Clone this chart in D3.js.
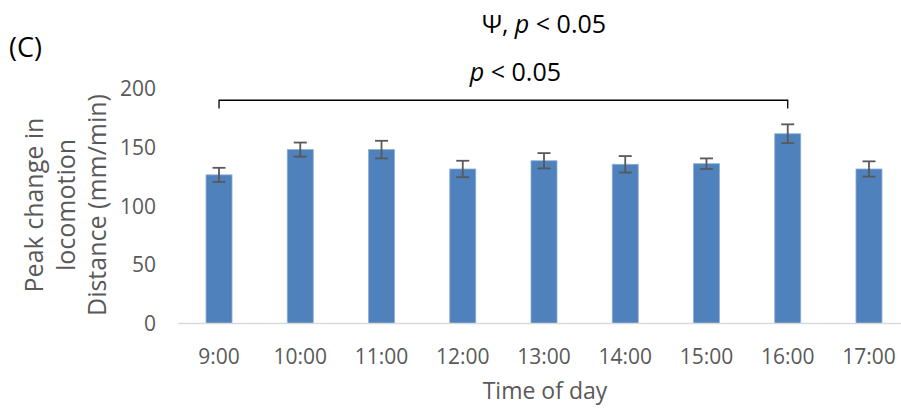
<!DOCTYPE html>
<html>
<head>
<meta charset="utf-8">
<script src="https://cdn.jsdelivr.net/npm/d3@7"></script>
<style>
  html, body { margin: 0; padding: 0; background: #fff; }
  svg { display: block; font-family: "Open Sans", "Noto Sans", sans-serif; }
</style>
</head>
<body>
<svg id="chart" width="901" height="409"></svg>
<script>
// Time points and the mean peak change with its error (mm/min)
const times = ["9:00", "10:00", "11:00", "12:00", "13:00", "14:00", "15:00", "16:00", "17:00"];
const peakChange = [126.5, 148, 148, 131.5, 138.5, 135.5, 136, 161.5, 131.5];
const errors = [6, 6, 7.5, 7, 6.5, 7, 4.5, 8, 6.5];
const yTicks = [0, 50, 100, 150, 200];

// Significance bracket between the 9:00 and 16:00 groups
const bracketFrom = "9:00";
const bracketTo = "16:00";
const bracketLevel = 190;
const bracketDrop = 183;

const svg = d3.select("#chart");
const x = d3.scaleBand().domain(times).range([178.4, 909.6]).paddingInner(0.68).paddingOuter(0.34);
const y = d3.scaleLinear().domain([0, 200]).range([323.5, 88.5]);
const cx = d => x(d) + x.bandwidth() / 2;

const gray = "#595959";

// Bars
svg.append("g").selectAll("rect").data(times).join("rect")
  .attr("x", d => x(d))
  .attr("width", x.bandwidth())
  .attr("y", (d, i) => y(peakChange[i]))
  .attr("height", (d, i) => y(0) - y(peakChange[i]))
  .attr("fill", "#4F81BD")
  .attr("stroke", "#8fb0d8")
  .attr("stroke-width", 0.8);

// Error bars
const eb = svg.append("g").attr("stroke", gray).attr("stroke-width", 1.8);
times.forEach((t, i) => {
  const c = cx(t), hi = y(peakChange[i] + errors[i]), lo = y(peakChange[i] - errors[i]);
  eb.append("line").attr("x1", c).attr("x2", c).attr("y1", hi).attr("y2", lo);
  eb.append("line").attr("x1", c - 6.5).attr("x2", c + 6.5).attr("y1", hi).attr("y2", hi);
  eb.append("line").attr("x1", c - 6.5).attr("x2", c + 6.5).attr("y1", lo).attr("y2", lo);
});

// Category axis line
svg.append("line")
  .attr("x1", 178.4).attr("x2", 901)
  .attr("y1", y(0)).attr("y2", y(0))
  .attr("stroke", "#d9d9d9").attr("stroke-width", 1.5);

// Y tick labels
svg.append("g").selectAll("text").data(yTicks).join("text")
  .attr("x", 156).attr("y", d => y(d))
  .attr("dy", "0.36em")
  .attr("text-anchor", "end")
  .attr("font-size", 21)
  .attr("fill", gray)
  .text(d => d);

// X tick labels
svg.append("g").selectAll("text").data(times).join("text")
  .attr("x", d => cx(d)).attr("y", 356)
  .attr("dy", "0.36em")
  .attr("text-anchor", "middle")
  .attr("font-size", 21)
  .attr("fill", gray)
  .text(d => d);

// Axis titles
const plotMid = (cx(times[0]) + cx(times[times.length - 1])) / 2;
svg.append("text")
  .attr("x", plotMid + 1)
  .attr("y", 391).attr("dy", "0.36em")
  .attr("text-anchor", "middle")
  .attr("font-size", 23)
  .attr("fill", gray)
  .text("Time of day");

const yTitle = svg.append("text")
  .attr("transform", "translate(0,205) rotate(-90)")
  .attr("text-anchor", "middle")
  .attr("font-size", 25)
  .attr("fill", gray);
["Peak change in", "locomotion", "Distance (mm/min)"].forEach((line, i) => {
  yTitle.append("tspan").attr("x", 0).attr("y", 43 + i * 31.5).text(line);
});

// Panel letter
svg.append("text").attr("x", 9).attr("y", 57)
  .attr("font-size", 27).attr("fill", "#000").text("(C)");

// Bracket
const bx1 = cx(bracketFrom), bx2 = cx(bracketTo);
svg.append("path")
  .attr("d", `M${bx1},${y(bracketDrop)}V${y(bracketLevel)}H${bx2}V${y(bracketDrop)}`)
  .attr("fill", "none").attr("stroke", "#000").attr("stroke-width", 1.3);

const pText = svg.append("text")
  .attr("x", (bx1 + bx2) / 2 + 12).attr("y", 81)
  .attr("text-anchor", "middle")
  .attr("font-size", 25).attr("fill", "#000");
pText.append("tspan").attr("font-style", "italic").text("p");
pText.append("tspan").text(" < 0.05");

const psiText = svg.append("text")
  .attr("x", plotMid).attr("y", 33)
  .attr("text-anchor", "middle")
  .attr("font-size", 25).attr("fill", "#000");
psiText.append("tspan").text("Ψ, ");
psiText.append("tspan").attr("font-style", "italic").text("p");
psiText.append("tspan").text(" < 0.05");
</script>
</body>
</html>
